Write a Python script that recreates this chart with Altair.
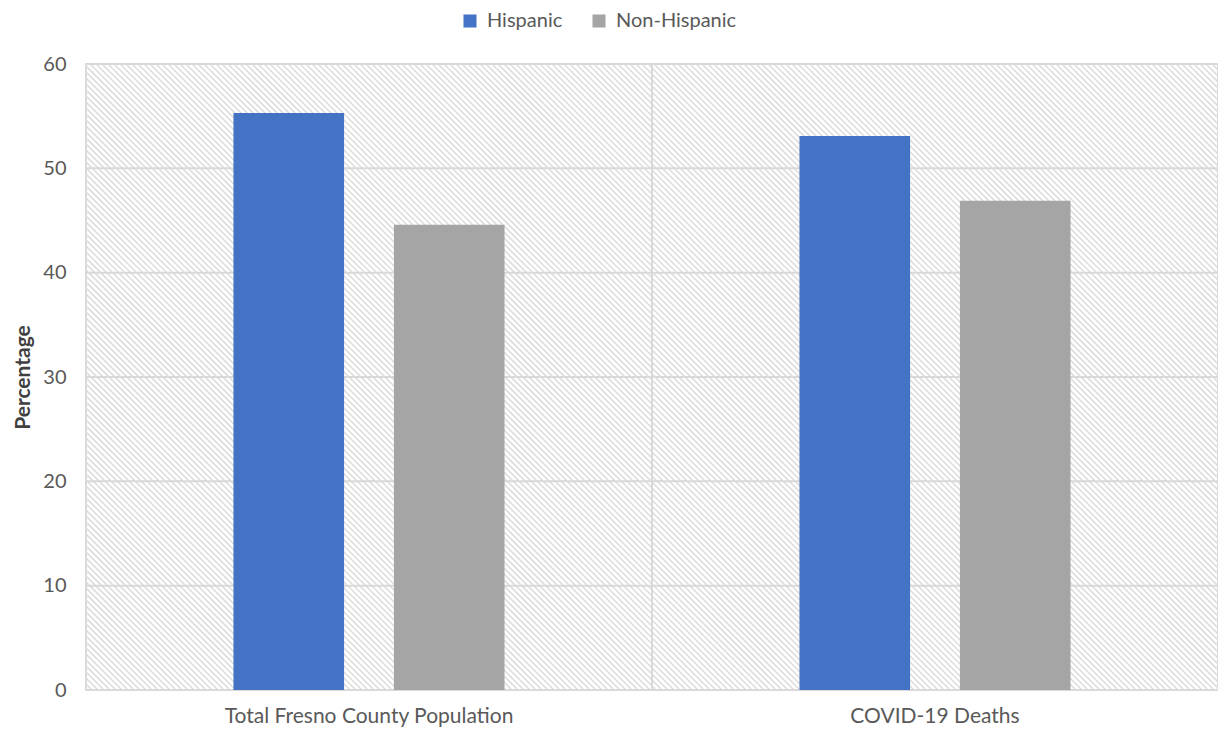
import altair as alt
import pandas as pd

categories = ["Total Fresno County Population", "COVID-19 Deaths"]
groups = ["Hispanic", "Non-Hispanic"]
hispanic = [55.3, 53.1]
non_hispanic = [44.6, 46.9]
y_ticks = [0, 10, 20, 30, 40, 50, 60]

rows = []
for c, h, n in zip(categories, hispanic, non_hispanic):
    rows.append({"category": c, "group": groups[0], "value": h})
    rows.append({"category": c, "group": groups[1], "value": n})
df = pd.DataFrame(rows)

W, H = 1132, 626
FONT = "Lato"
TEXT = "#595959"
GRID = "#D9D9D9"

# decorative hatch of the plot background
hatch = alt.Chart(alt.sequence(-H, W, 6, as_="a")).transform_calculate(
    x1="datum.a", x2="datum.a + %d" % H, y1=str(H), y2="0"
).mark_rule(color="#DEDEDE", strokeWidth=1.6, clip=True).encode(
    x=alt.X("x1:Q", scale=alt.Scale(domain=[0, W], nice=False, zero=False), axis=None),
    x2="x2:Q",
    y=alt.Y("y1:Q", scale=alt.Scale(domain=[0, H], nice=False), axis=None),
    y2="y2:Q",
)

yscale = alt.Scale(domain=[0, 60], nice=False)
xscale = alt.Scale(domain=categories, paddingInner=0, paddingOuter=0)

xaxis = alt.Axis(
    title=None, labelAngle=0, ticks=False, domain=False, grid=False,
    labelFontSize=21, labelColor=TEXT, labelPadding=15, labelFont=FONT,
    labelLimit=0, labelAlign="center", labelBaseline="top", bandPosition=0.5,
)
yaxis = alt.Axis(
    values=y_ticks, title="Percentage", ticks=False, domain=False, grid=False,
    labelFontSize=20, labelColor=TEXT, labelPadding=20, labelFont=FONT,
    titleFontSize=21, titleFontWeight="bold", titleColor="#404040",
    titleFont=FONT, titlePadding=9,
)

grid = alt.Chart(pd.DataFrame({"v": y_ticks})).mark_rule(color=GRID, strokeWidth=2).encode(
    y=alt.Y("v:Q", scale=yscale, axis=yaxis)
)

vline = alt.Chart(pd.DataFrame({"category": [categories[1]]})).mark_rule(
    color=GRID, strokeWidth=2
).encode(x=alt.X("category:N", scale=xscale, bandPosition=0, axis=xaxis))

bars = alt.Chart(df).mark_bar().encode(
    x=alt.X("category:N", scale=xscale, sort=categories, axis=xaxis),
    xOffset=alt.XOffset(
        "group:N", sort=groups,
        scale=alt.Scale(domain=groups, paddingInner=0.3106, paddingOuter=0.919),
    ),
    y=alt.Y("value:Q", scale=yscale, axis=yaxis),
    color=alt.Color(
        "group:N",
        scale=alt.Scale(domain=groups, range=["#4472C4", "#A5A5A5"]),
        legend=alt.Legend(
            title=None, orient="none", direction="horizontal", legendX=374, legendY=-53,
            symbolType="square", symbolSize=170, symbolStrokeWidth=0,
            labelFontSize=20, labelColor=TEXT, labelFont=FONT, columnPadding=26,
            labelOffset=7,
        ),
    ),
)

main = alt.layer(grid, vline, bars)

chart = alt.layer(hatch, main).resolve_scale(x="independent", y="independent").properties(
    width=W, height=H,
    autosize=alt.AutoSizeParams(type="none"),
    padding={"left": 78, "top": 56, "right": 0, "bottom": 38},
).configure_view(stroke=GRID, strokeWidth=2)

chart.save("out.html", embed_options={"renderer": "svg", "actions": False})
